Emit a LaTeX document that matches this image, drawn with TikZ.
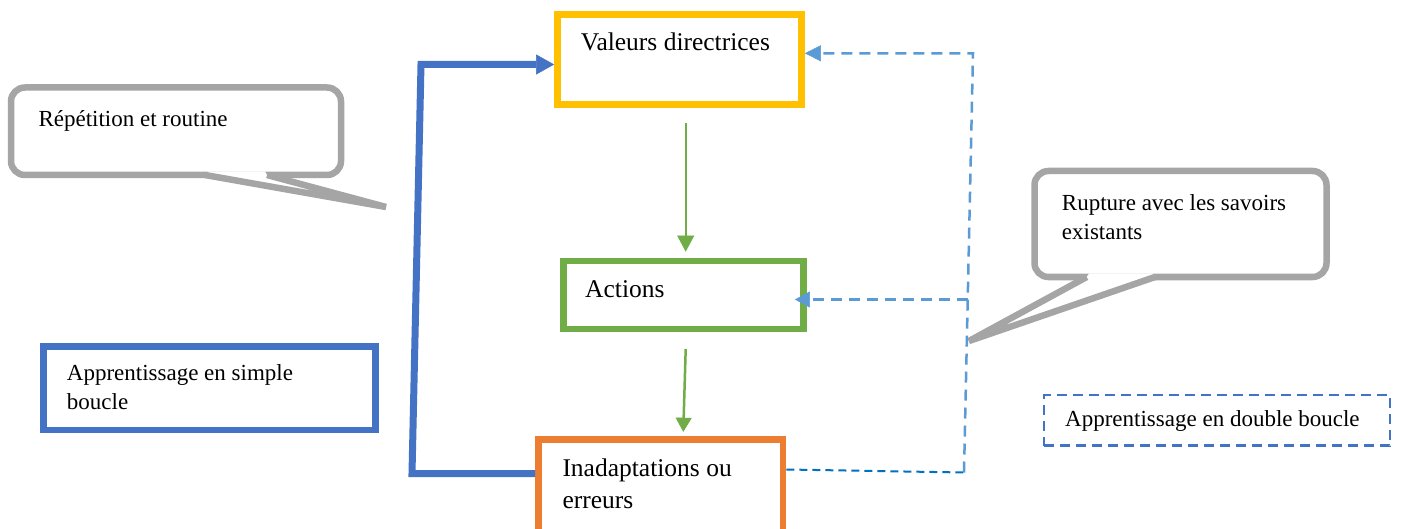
\documentclass[tikz,border=0pt]{standalone}
\usepackage{fontspec}
\setmainfont{Liberation Serif}
\usetikzlibrary{arrows.meta,calc}
\definecolor{gold}{HTML}{FFC000}
\definecolor{leaf}{HTML}{70AD47}
\definecolor{tangerine}{HTML}{ED7D31}
\definecolor{royal}{HTML}{4472C4}
\definecolor{sky}{HTML}{5B9BD5}
\definecolor{ocean}{HTML}{0070C0}
\definecolor{ash}{HTML}{A5A5A5}
\begin{document}
\begin{tikzpicture}[x=1pt,y=-1pt,
  frame/.style={draw,line width=6.8pt,inner sep=0pt},
  bubble/.style={draw=ash,line width=6.5pt,rounded corners=14pt,inner sep=0pt},
  tail/.style={draw=ash,line width=6.5pt},
  % multi-line labels are placed by the baseline of their last line
  bigtext/.style={font=\fontsize{25.5}{32}\selectfont,anchor=base west,inner sep=0pt,align=left},
  smalltext/.style={font=\fontsize{23}{29}\selectfont,anchor=base west,inner sep=0pt,align=left},
  single/.style={draw=royal,line width=7pt,-{Triangle[length=18pt,width=20pt,line width=0.5pt]}},
  flow/.style={draw=leaf},
  loopline/.style={draw=sky,line width=2.5pt,dash pattern=on 11pt off 7pt},
  looptip/.style={-{Triangle[length=#1,width=16pt,line width=0.5pt]}},
]
\useasboundingbox (0,0) rectangle (1402,529);
\fill[white] (0,0) rectangle (1402,529);

% speech bubbles
\node[bubble,minimum width=330pt,minimum height=87.5pt] (rep) at (176,131.25) {};
\coordinate (reptip) at (386,207);
\fill[white] (207.5,171.5) -- (265,171.5) -- (267,175) -- (reptip) -- (205,175) -- cycle;
\draw[tail] (205,175) -- (reptip) -- (267,175);

\node[bubble,minimum width=292pt,minimum height=106pt] (rup) at (1180.5,224) {};
\coordinate (ruptip) at (969,341);
\fill[white] (1089,273.5) -- (1153,273.5) -- (1155,277) -- (ruptip) -- (1086.7,277) -- cycle;
\draw[tail] (1086.7,277) -- (ruptip) -- (1155,277);

% boxes
\node[frame,draw=gold,minimum width=244pt,minimum height=90pt] (val) at (679.5,59.4) {};
\node[frame,draw=leaf,minimum width=240pt,minimum height=68pt] (act) at (683.5,295) {};
\node[frame,draw=tangerine,minimum width=244.5pt,minimum height=100.5pt] (inad) at (660.75,489.75) {};
\node[frame,draw=royal,minimum width=332.4pt,minimum height=83.3pt] (simple) at (209.5,388.3) {};
\node[draw=royal,line width=2.5pt,dash pattern=on 10pt off 6pt,inner sep=0pt,
      minimum width=346pt,minimum height=50.5pt] (double) at (1217,420.25) {};

% labels
\node[bigtext] (valt) at (580.7,51) {Valeurs directrices};
\node[bigtext] (actt) at (585,298) {Actions};
\node[bigtext] (inadt) at (562.3,508) {Inadaptations ou\\erreurs};
\node[smalltext] (simplet) at (66.7,409) {Apprentissage en simple\\boucle};
\node[smalltext] (doublet) at (1065,426.7) {Apprentissage en double boucle};
\node[smalltext] (rept) at (38.3,126.7) {Répétition et routine};
\node[smalltext] (rupt) at (1061.7,239.3) {Rupture avec les savoirs\\existants};

% single loop
\coordinate (sbot) at (412,473.5);
\coordinate (stop) at (421,64.5);
\draw[single] (inad.west |- sbot) -- (sbot) -- (stop) -- (val.west |- stop);

% main flow
\draw[flow,line width=1.7pt,-{Triangle[length=16pt,width=17pt,line width=0.5pt]}]
  ($(val.south)+(6.2,15.5)$) -- ($(act.north)+(2.2,-6)$);
\draw[flow,line width=2.5pt,-{Triangle[length=14pt,width=16pt,line width=0.5pt]}]
  ($(act.south)+(2.2,16.6)$) -- ($(inad.north)+(22.5,-4.3)$);

% double loop
\coordinate (dbot) at (790,469.5);
\coordinate (dlow) at (964,472.5);
\coordinate (dhigh) at (973,53.3);
\coordinate (dmid) at (967.7,299.5);
\draw[ocean,line width=2pt,dash pattern=on 8pt off 5pt] (inad.east |- dbot) -- (dlow);
\draw[loopline,looptip=16pt] (dlow) -- (dhigh) -- (val.east |- dhigh);
\draw[loopline,looptip=15pt] (dmid) -- ($(act.east |- dmid)+(-12,0)$);
\end{tikzpicture}
\end{document}
